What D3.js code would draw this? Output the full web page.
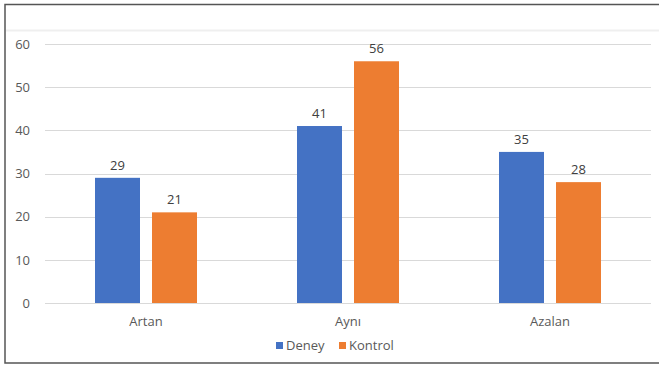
<!DOCTYPE html>
<html><head><meta charset="utf-8">
<script src="https://cdn.jsdelivr.net/npm/d3@7"></script>
<style>body{margin:0;background:#fff;}svg{display:block;font-family:"Open Sans",sans-serif;}</style>
</head><body><svg id="c" width="659" height="365"></svg>
<script>
const categories = ["Artan", "Aynı", "Azalan"];
const seriesNames = ["Deney", "Kontrol"];
const deney = [29, 41, 35];
const kontrol = [21, 56, 28];
const yTicks = [0, 10, 20, 30, 40, 50, 60];
const colors = ["#4472C4", "#ED7D31"];

(function () {
const svg = d3.select("#c");
const W = 659, H = 365;
// frame
svg.append("rect").attr("x", 5).attr("y", 4.5).attr("width", W - 4).attr("height", 358.5)
  .attr("fill", "#fff").attr("stroke", "#555").attr("stroke-width", 1.5);
svg.append("line").attr("x1", 6).attr("x2", W).attr("y1", 30.5).attr("y2", 30.5)
  .attr("stroke", "#efefef").attr("stroke-width", 2);

const pLeft = 45, pRight = 651, pTop = 44, pBottom = 303;
const x = d3.scaleBand().domain(categories).range([pLeft, pRight]);
const y = d3.scaleLinear().domain([0, 60]).range([pBottom, pTop]);
const barW = 45, gap = 12;
const x1 = d3.scaleOrdinal().domain(seriesNames).range([-(barW + gap / 2), gap / 2]);

// gridlines
svg.append("g").selectAll("line").data(yTicks).join("line")
  .attr("x1", pLeft).attr("x2", pRight)
  .attr("y1", d => Math.round(y(d)) + 0.5).attr("y2", d => Math.round(y(d)) + 0.5)
  .attr("stroke", "#d9d9d9").attr("stroke-width", 1);

// y axis labels
const yAxis = d3.axisLeft(y).tickValues(yTicks).tickSize(0).tickPadding(0);
const gy = svg.append("g").attr("transform", `translate(30,0)`).call(yAxis);
gy.select(".domain").remove();
gy.selectAll("text").attr("fill", "#595959").attr("font-size", 13).attr("font-family", "Open Sans, sans-serif");

// x axis labels
const xAxis = d3.axisBottom(x).tickSize(0).tickPadding(0);
const gx = svg.append("g").attr("transform", `translate(0,${pBottom + 14})`).call(xAxis);
gx.select(".domain").remove();
gx.selectAll("text").attr("fill", "#595959").attr("font-size", 13).attr("font-family", "Open Sans, sans-serif");

const data = [deney, kontrol];
seriesNames.forEach((s, si) => {
  const g = svg.append("g");
  g.selectAll("rect").data(categories).join("rect")
    .attr("x", (c) => x(c) + x.bandwidth() / 2 + x1(s))
    .attr("y", (c, i) => y(data[si][i]))
    .attr("width", barW)
    .attr("height", (c, i) => pBottom - y(data[si][i]))
    .attr("fill", colors[si]);
  g.selectAll("text").data(categories).join("text")
    .attr("x", (c) => x(c) + x.bandwidth() / 2 + x1(s) + barW / 2)
    .attr("y", (c, i) => y(data[si][i]) - 8)
    .attr("text-anchor", "middle")
    .attr("fill", "#404040").attr("font-size", 13)
    .text((c, i) => data[si][i]);
});

// legend
const legX = [276, 339];
const leg = svg.append("g");
seriesNames.forEach((s, i) => {
  leg.append("rect").attr("x", legX[i]).attr("y", 342).attr("width", 7).attr("height", 7).attr("fill", colors[i]);
  leg.append("text").attr("x", legX[i] + 10).attr("y", 350).attr("fill", "#595959").attr("font-size", 13).text(s);
});
})();
</script></body></html>
